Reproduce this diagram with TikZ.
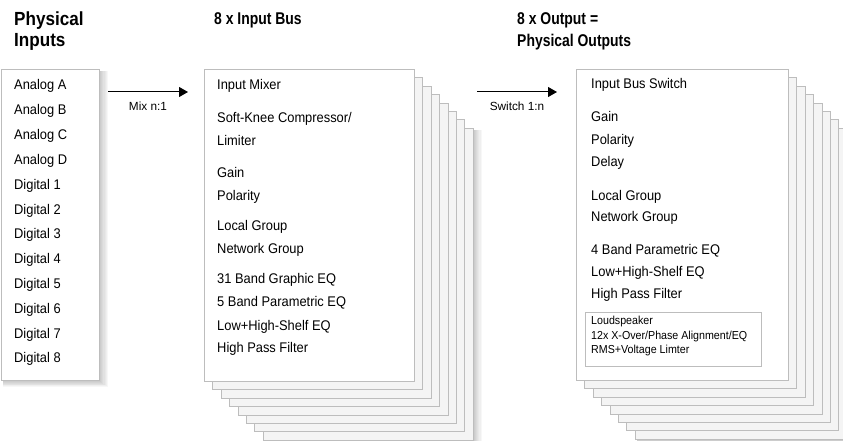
\documentclass[tikz,border=0pt]{standalone}
\usepackage{fontspec}
\setmainfont{Liberation Sans}
\newfontfamily\bodyfont[FakeStretch=0.92]{Liberation Sans}
\newfontfamily\titlefont[FakeStretch=0.82]{Liberation Sans}
\newfontfamily\titlefontw[FakeStretch=0.9]{Liberation Sans}
\usetikzlibrary{arrows.meta}
\definecolor{edgegray}{HTML}{BDBDBD}
\definecolor{sheetfill}{HTML}{F4F4F4}
\newcommand\softshade[4]{%
  \foreach \s in {1,...,8} {
    \fill[black,opacity=0.03] (#1+2,#2+2) rectangle (#3+\s*1.1,#4+\s*0.9);
  }}
\begin{document}
\begin{tikzpicture}[x=1pt,y=-1pt,
  sheet/.style={draw=edgegray, fill=sheetfill, line width=0.8pt, anchor=north west, inner sep=0pt},
  frontsheet/.style={draw=edgegray, fill=white, line width=0.8pt, anchor=north west, inner sep=0pt},
  item/.style={anchor=base west, inner sep=0pt, font=\bodyfont\fontsize{14}{16}\selectfont},
  smallitem/.style={anchor=base west, inner sep=0pt, font=\bodyfont\fontsize{11.6}{13}\selectfont},
  title/.style={anchor=base west, inner sep=0pt, font=\titlefont\bfseries\fontsize{17}{20}\selectfont},
  bigtitle/.style={anchor=base west, inner sep=0pt, font=\titlefontw\bfseries\fontsize{19}{22}\selectfont},
  lbl/.style={inner sep=0pt, font=\fontsize{11.8}{14}\selectfont},
  arr/.style={-{Triangle[length=9pt,width=10pt]}, line width=1pt}]
\useasboundingbox (0,0) rectangle (843,441);
\begin{scope}
\clip (0,0) rectangle (843,441);

% titles
\node[bigtitle] (t1a) at (14,26) {Physical};
\node[bigtitle] (t1b) at (14,47) {Inputs};
\node[title] (t2) at (214,25) {8 x Input Bus};
\node[title] (t3a) at (517,25) {8 x Output =};
\node[title] (t3b) at (517,47) {Physical Outputs};

% physical inputs box
\softshade{0.5}{69}{99}{380}
\node[frontsheet, minimum width=98.5pt, minimum height=311pt] (inbox) at (0.5,69) {};
\foreach \t [count=\i from 0] in {Analog A,Analog B,Analog C,Analog D,Digital 1,Digital 2,Digital 3,Digital 4,Digital 5,Digital 6,Digital 7,Digital 8}
  \node[item] (in\i) at (14,90+24.8*\i) {\t};

% input bus stack
\softshade{262.8}{127.8}{472.8}{439.8}
\foreach \k in {7,6,...,1}
  \node[sheet, minimum width=210pt, minimum height=312pt] (bus\k) at (204+8.4*\k,69+8.4*\k) {};
\node[frontsheet, minimum width=210pt, minimum height=312pt] (bus0) at (204,69) {};
\node[item] (b1) at (217,90) {Input Mixer};
\node[item] (b2) at (217,123) {Soft-Knee Compressor/};
\node[item] (b3) at (217,146) {Limiter};
\node[item] (b4) at (217,177) {Gain};
\node[item] (b5) at (217,200) {Polarity};
\node[item] (b6) at (217,230) {Local Group};
\node[item] (b7) at (217,253) {Network Group};
\node[item] (b8) at (217,283) {31 Band Graphic EQ};
\node[item] (b9) at (217,306) {5 Band Parametric EQ};
\node[item] (b10) at (217,330) {Low+High-Shelf EQ};
\node[item] (b11) at (217,352) {High Pass Filter};

% output stack
\softshade{634.8}{127.8}{846.8}{438.8}
\foreach \k in {7,6,...,1}
  \node[sheet, minimum width=212pt, minimum height=311pt] (out\k) at (576+8.4*\k,69+8.4*\k) {};
\node[frontsheet, minimum width=212pt, minimum height=311pt] (out0) at (576,69) {};
\node[item] (o1) at (591,89) {Input Bus Switch};
\node[item] (o2) at (591,122) {Gain};
\node[item] (o3) at (591,144) {Polarity};
\node[item] (o4) at (591,166) {Delay};
\node[item] (o5) at (591,200) {Local Group};
\node[item] (o6) at (591,221) {Network Group};
\node[item] (o7) at (591,254) {4 Band Parametric EQ};
\node[item] (o8) at (591,276) {Low+High-Shelf EQ};
\node[item] (o9) at (591,298) {High Pass Filter};
\node[frontsheet, minimum width=176pt, minimum height=54pt] (spk) at (585,312) {};
\node[smallitem] (s1) at (591,324) {Loudspeaker};
\node[smallitem] (s2) at (591,339) {12x X-Over/Phase Alignment/EQ};
\node[smallitem] (s3) at (591,353) {RMS+Voltage Limter};

% connectors
\coordinate (m1) at (108,92);
\coordinate (m2) at (188,92);
\coordinate (w1) at (477,92);
\coordinate (w2) at (557,92);
\draw[arr] (m1) -- (m2);
\draw[arr] (w1) -- (w2);
\node[lbl] (ml) at (148,106) {Mix n:1};
\node[lbl] (wl) at (517,106) {Switch 1:n};
\end{scope}
\end{tikzpicture}
\end{document}
